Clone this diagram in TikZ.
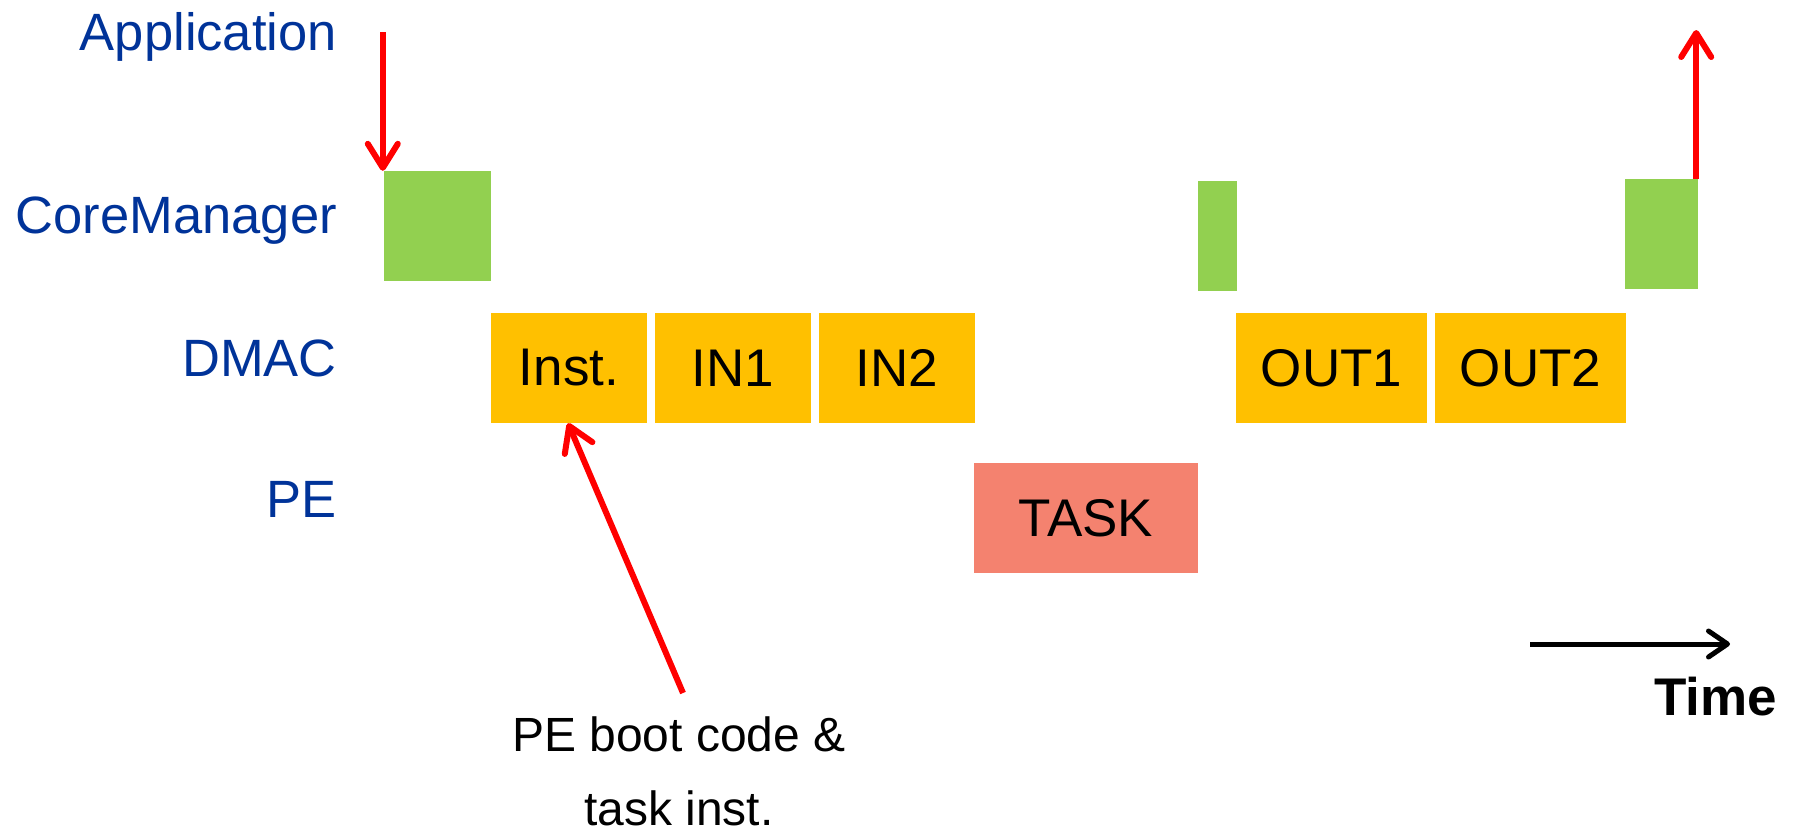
\documentclass[tikz,border=0pt]{standalone}
\usepackage{fontspec}
\setmainfont{Liberation Sans}
\usetikzlibrary{arrows.meta}

\definecolor{lanecol}{HTML}{003399}
\definecolor{cmgreen}{HTML}{92D050}
\definecolor{dmagold}{HTML}{FFC000}
\definecolor{tasksalmon}{HTML}{F4826F}

\tikzset{
  lane/.style={anchor=base east, text=lanecol, inner sep=0pt,
               font=\fontsize{52.5}{60}\selectfont},
  slot/.style={rectangle, inner sep=0pt, minimum height=110pt,
               font=\fontsize{53}{60}\selectfont},
  cmslot/.style={slot, fill=cmgreen},
  dmaslot/.style={slot, fill=dmagold, minimum width=156pt},
  outslot/.style={slot, fill=dmagold, minimum width=191pt},
  peslot/.style={slot, fill=tasksalmon},
  redarrow/.style={draw=red, line width=6pt,
    -{Straight Barb[length=24pt,width=30pt,line cap=round,line join=round]}},
  timearrow/.style={draw=black, line width=5pt,
    -{Straight Barb[length=19pt,width=26pt,line cap=round,line join=round]}},
  note/.style={anchor=base, inner sep=0pt, font=\fontsize{48}{60}\selectfont},
}

\begin{document}
\begin{tikzpicture}[x=1pt,y=-1pt]
  \useasboundingbox (0,0) rectangle (1793,830);
  \fill[white] (0,0) rectangle (1793,830);

  % lane labels
  \node[lane] (lapp)  at (337,50)  {Application};
  \node[lane] (lcm)   at (337,233) {CoreManager};
  \node[lane] (ldmac) at (337,376) {DMAC};
  \node[lane] (lpe)   at (337,517) {PE};

  % CoreManager activity
  \node[cmslot, minimum width=107pt] (cm1) at (437.5,226)  {};
  \node[cmslot, minimum width=39pt]  (cm2) at (1217.5,236) {};
  \node[cmslot, minimum width=73pt]  (cm3) at (1661.5,234) {};

  % DMAC transfers
  \node[dmaslot] (inst) at (569,368) {Inst.};
  \node[dmaslot] (in1)  at (733,368) {IN1};
  \node[dmaslot] (in2)  at (897,368) {IN2};
  \node[outslot] (out1) at (1331.5,368) {OUT1};
  \node[outslot] (out2) at (1530.5,368) {OUT2};

  % PE execution
  \node[peslot, minimum width=224pt] (task) at (1086,518) {TASK};

  % application request and completion
  \coordinate (appin)  at ([xshift=-1pt]cm1.north west |- 0,32);
  \coordinate (appout) at ([xshift=-2pt]cm3.north east |- 0,30);
  \draw[redarrow] (appin) -- ([xshift=-1pt]cm1.north west);
  \draw[redarrow] ([xshift=-2pt]cm3.north east) -- (appout);

  % boot code annotation
  \node[note] (boot1) at (679,751) {PE boot code \&};
  \node[note] (boot2) at (679,825) {task inst.};
  \coordinate (boottail) at (683,693);
  \draw[redarrow] (boottail) -- ([xshift=-1pt]inst.south);

  % time axis
  \coordinate (tstart) at (1530,644);
  \coordinate (tend)   at (1730,644);
  \draw[timearrow] (tstart) -- (tend);
  \node[anchor=base west, inner sep=0pt, font=\bfseries\fontsize{53}{60}\selectfont]
    (time) at (1654,715) {Time};
\end{tikzpicture}
\end{document}
